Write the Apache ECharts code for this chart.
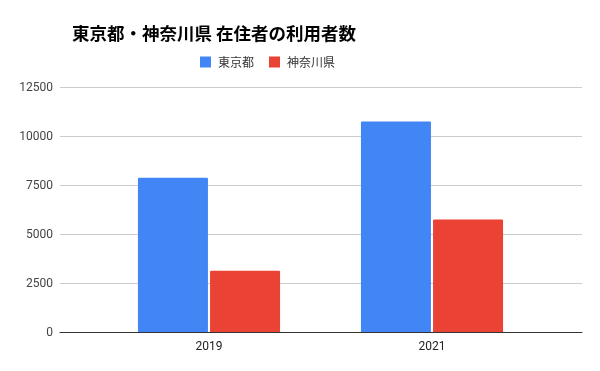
<!DOCTYPE html>
<html>
<head>
<meta charset="utf-8">
<script src="https://cdn.jsdelivr.net/npm/echarts@6/dist/echarts.min.js"></script>
<style>html,body{margin:0;padding:0;background:#fff}#c{width:600px;height:371px}</style>
</head>
<body>
<div id="c"></div>
<script>
const categories = ['2019', '2021'];
const tokyo = [7900, 10760];
const kanagawa = [3150, 5760];
const yTicks = [0, 2500, 5000, 7500, 10000, 12500];
const seriesNames = ['東京都', '神奈川県'];

const chart = echarts.init(document.getElementById('c'), null, {renderer: 'canvas'});
const font = '"Roboto", "Noto Sans CJK JP", sans-serif';
chart.setOption({
  animation: false,
  textStyle: {fontFamily: font},
  title: {
    text: '東京都・神奈川県 在住者の利用者数',
    left: 67, top: 20,
    textStyle: {fontSize: 17.5, fontWeight: 'bold', color: '#000', fontFamily: '"Noto Sans CJK JP", sans-serif'}
  },
  legend: {
    data: seriesNames,
    top: 51, left: 195,
    itemWidth: 11, itemHeight: 11, itemGap: 15,
    icon: 'rect',
    textStyle: {fontSize: 12, color: '#333', padding: [0, 0, 0, 2], fontFamily: '"Noto Sans CJK JP", sans-serif'}
  },
  grid: [
    {left: 60, right: 18, top: 87.5, bottom: 38.5, containLabel: false},
    {left: 97.5, right: 56.5, top: 87.5, bottom: 38.5, containLabel: false}
  ],
  xAxis: [
    {gridIndex: 0, type: 'category', data: [''], axisTick: {show: false}, axisLabel: {show: false},
     axisLine: {lineStyle: {color: '#333', width: 1}}, z: 5},
    {gridIndex: 1, type: 'category', data: categories, axisTick: {show: false},
     axisLine: {show: false},
     axisLabel: {fontSize: 12, color: '#222', margin: 8}}
  ],
  yAxis: [
    {gridIndex: 0, type: 'value', min: yTicks[0], max: yTicks[yTicks.length - 1], interval: 2500,
     axisLine: {show: false}, axisTick: {show: false},
     axisLabel: {fontSize: 12, color: '#444', margin: 7, formatter: v => String(v)},
     splitLine: {lineStyle: {color: '#ccc', width: 1}}},
    {gridIndex: 1, type: 'value', min: yTicks[0], max: yTicks[yTicks.length - 1], interval: 2500,
     show: false, splitLine: {show: false}}
  ],
  series: [
    {name: seriesNames[0], type: 'bar', xAxisIndex: 1, yAxisIndex: 1, data: tokyo,
     barWidth: 70, barGap: '3%', itemStyle: {color: '#4285f4', borderRadius: [1, 1, 0, 0]}},
    {name: seriesNames[1], type: 'bar', xAxisIndex: 1, yAxisIndex: 1, data: kanagawa,
     barWidth: 70, barGap: '3%', itemStyle: {color: '#ea4335', borderRadius: [1, 1, 0, 0]}}
  ]
});
</script>
</body>
</html>
